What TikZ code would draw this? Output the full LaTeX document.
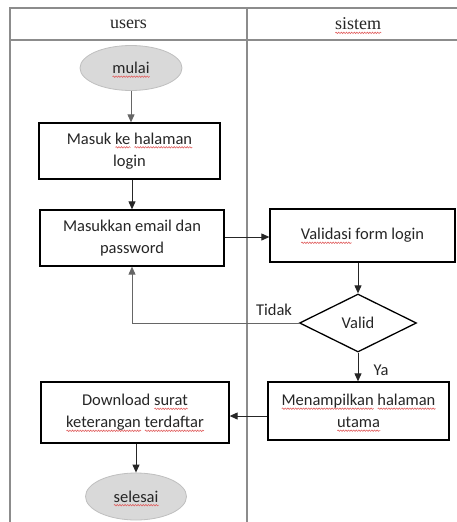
\documentclass[tikz,border=0pt]{standalone}
\usepackage{fontspec}
\setmainfont{Carlito}
\newfontfamily\hdrfont{Liberation Serif}
\usetikzlibrary{arrows.meta,shapes.geometric,decorations.pathmorphing}
\definecolor{framegray}{HTML}{8C8C8C}
\definecolor{termfill}{HTML}{D9D9D9}
\definecolor{termline}{HTML}{BFBFBF}
\definecolor{txt}{HTML}{262626}
\definecolor{spellred}{HTML}{E06060}
\newsavebox\wavybox
\newcommand\wavy[1]{\leavevmode\sbox\wavybox{#1}\rlap{\smash{\tikz[baseline=0pt]\draw[spellred,line width=0.6pt,decorate,decoration={snake,amplitude=0.7pt,segment length=2.6pt}] (0pt,-3pt) -- (\the\wd\wavybox,-3pt);}}\usebox\wavybox}
\tikzset{
  frameline/.style={draw=framegray,line width=1.4pt},
  stepbox/.style={draw=black,line width=1.3pt,rectangle,align=center,text=txt,
    font=\fontsize{16.5}{22}\selectfont,inner sep=0pt},
  term/.style={ellipse,fill=termfill,draw=termline,line width=0.8pt,text=txt,
    font=\fontsize{16.5}{22}\selectfont,inner sep=0pt},
  decision/.style={diamond,draw=black,line width=1.3pt,text=txt,
    font=\fontsize{16.5}{22}\selectfont,inner sep=0pt,aspect=2.02,
    minimum width=117pt,minimum height=58pt},
  conn/.style={draw=black!85,line width=1pt,-{Triangle[length=8pt,width=7pt]}},
  lbl/.style={text=txt,font=\fontsize{16.5}{20}\selectfont,inner sep=0pt},
  hdr/.style={font=\hdrfont\fontsize{18}{20}\selectfont,text=black!85,inner sep=0pt}
}
\begin{document}
\begin{tikzpicture}[x=1pt,y=-1pt]
\useasboundingbox (0,0) rectangle (456,522);
% swimlane frame
\draw[frameline] (10,522) -- (10,8) -- (457,8);
\draw[frameline] (10,40) -- (457,40);
\draw[frameline] (247,8) -- (247,522);
\node[hdr] (husers) at (128.5,24) {users};
\node[hdr] (hsistem) at (358,24) {\wavy{sistem}};
% nodes
\node[term,minimum width=102pt,minimum height=45pt] (mulai) at (131,68) {\wavy{mulai}};
\node[stepbox,minimum width=181pt,minimum height=56pt] (login) at (129.5,151) {Masuk \wavy{ke} \wavy{halaman}\\login};
\node[stepbox,minimum width=184pt,minimum height=56pt] (email) at (132,238) {Masukkan email dan\\password};
\node[stepbox,minimum width=185pt,minimum height=53pt] (validasi) at (362.5,235.5) {\wavy{Validasi} form login};
\node[decision] (valid) at (358,323) {Valid};
\node[stepbox,minimum width=181pt,minimum height=58pt] (tampil) at (358.5,411) {\wavy{Menampilkan} \wavy{halaman}\\\wavy{utama}};
\node[stepbox,minimum width=188pt,minimum height=61pt] (download) at (135,412.5) {Download \wavy{surat}\\\wavy{keterangan} \wavy{terdaftar}};
\node[term,minimum width=101pt,minimum height=47pt] (selesai) at (136,496.5) {\wavy{selesai}};
\coordinate (back) at (132,323);
% connectors
\draw[conn,draw=black!60] (mulai.south) -- (login.north -| mulai.south);
\draw[conn] (login.south -| email.north) -- (email.north);
\draw[conn] (email.east |- 0,237) -- (validasi.west |- 0,237);
\draw[conn] (validasi.south -| valid.north) -- (valid.north);
\draw[conn] (valid.south) -- (tampil.north -| valid.south);
\draw[conn] (tampil.west |- 0,416) -- (download.east |- 0,416);
\draw[conn] (download.south -| selesai.north) -- (selesai.north);
\draw[conn,draw=black!60] (valid.west) -- (back) -- (email.south -| back);
% labels
\node[lbl] (tidak) at (274,310) {Tidak};
\node[lbl] (ya) at (381,370) {Ya};
\end{tikzpicture}
\end{document}
